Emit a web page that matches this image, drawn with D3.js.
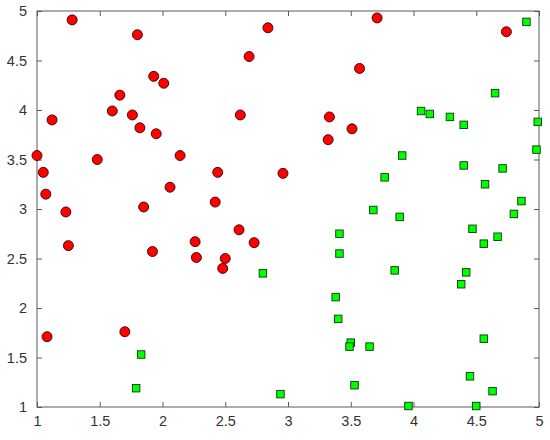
<!DOCTYPE html>
<html>
<head>
<meta charset="utf-8">
<script src="https://d3js.org/d3.v7.min.js"></script>
<style>
  body { margin: 0; background: #fff; }
  svg { display: block; font-family: "Liberation Sans", Arial, sans-serif; }
</style>
</head>
<body>
<div id="chart"></div>
<script>
// class 1 (red circles)
const redX = [1.28, 1.80, 2.84, 2.69, 1.93, 2.01, 1.66, 1.60, 1.76, 1.12,
              2.62, 1.82, 1.95, 1.00, 1.48, 2.14, 1.05, 2.44, 1.07, 2.06,
              2.42, 1.85, 1.23, 3.71, 4.74, 3.57, 3.33, 3.51, 3.32, 2.96,
              1.25, 1.92, 2.26, 2.27, 2.61, 2.73, 2.50, 2.48, 1.08, 1.70]
const redY = [4.91, 4.76, 4.83, 4.54, 4.34, 4.27, 4.15, 3.99, 3.95, 3.90,
              3.95, 3.82, 3.76, 3.54, 3.50, 3.54, 3.37, 3.37, 3.15, 3.22,
              3.07, 3.02, 2.97, 4.93, 4.79, 4.42, 3.93, 3.81, 3.70, 3.36,
              2.63, 2.57, 2.67, 2.51, 2.79, 2.66, 2.50, 2.40, 1.71, 1.76]

// class 2 (green squares)
const greenX = [4.90, 4.65, 4.06, 4.13, 4.29, 4.40, 4.99, 4.98, 3.91, 4.40,
                4.71, 3.77, 4.57, 4.86, 3.68, 4.80, 3.89, 4.47, 4.67, 4.56,
                3.41, 3.41, 3.85, 4.42, 4.38, 3.38, 3.40, 3.50, 3.49, 3.65,
                4.56, 4.45, 3.53, 4.63, 2.94, 3.96, 4.50, 2.80, 1.83, 1.79]
const greenY = [4.89, 4.17, 3.99, 3.96, 3.93, 3.85, 3.88, 3.60, 3.54, 3.44,
                3.41, 3.32, 3.25, 3.08, 2.99, 2.95, 2.92, 2.80, 2.72, 2.65,
                2.75, 2.55, 2.38, 2.36, 2.24, 2.11, 1.89, 1.65, 1.61, 1.61,
                1.69, 1.31, 1.22, 1.16, 1.13, 1.01, 1.01, 2.35, 1.53, 1.19]

const tickVals = [1, 1.5, 2, 2.5, 3, 3.5, 4, 4.5, 5]

const width = 550, height = 440
const margin = { top: 11, right: 11, bottom: 33, left: 37 }
const innerW = width - margin.left - margin.right
const innerH = height - margin.top - margin.bottom

const svg = d3.select("#chart").append("svg")
    .attr("width", width)
    .attr("height", height)

const g = svg.append("g")
    .attr("transform", `translate(${margin.left},${margin.top})`)

const x = d3.scaleLinear().domain([1, 5]).range([0, innerW])
const y = d3.scaleLinear().domain([1, 5]).range([innerH, 0])

const axisColor = "#5a5a5a"
const tickLen = 5

// box
g.append("rect")
    .attr("width", innerW)
    .attr("height", innerH)
    .attr("fill", "none")
    .attr("stroke", axisColor)
    .attr("stroke-width", 1)

function styleAxis(sel) {
    sel.select(".domain").remove()
    sel.selectAll(".tick line").attr("stroke", axisColor)
    sel.selectAll(".tick text")
        .attr("fill", "#333")
        .attr("font-size", "14.5px")
        .attr("font-family", "Liberation Sans, Arial, sans-serif")
}

// inward ticks on all four sides
g.append("g")
    .attr("transform", `translate(0,${innerH})`)
    .call(d3.axisBottom(x).tickValues(tickVals).tickSizeInner(-tickLen).tickSizeOuter(0).tickPadding(9).tickFormat(d3.format("")))
    .call(styleAxis)

g.append("g")
    .call(d3.axisLeft(y).tickValues(tickVals).tickSizeInner(-tickLen).tickSizeOuter(0).tickPadding(10).tickFormat(d3.format("")))
    .call(styleAxis)

g.append("g")
    .call(d3.axisTop(x).tickValues(tickVals).tickSizeInner(-tickLen).tickSizeOuter(0).tickFormat(""))
    .call(styleAxis)

g.append("g")
    .attr("transform", `translate(${innerW},0)`)
    .call(d3.axisRight(y).tickValues(tickVals).tickSizeInner(-tickLen).tickSizeOuter(0).tickFormat(""))
    .call(styleAxis)

// red circles
g.selectAll("circle.red")
    .data(redX.map((d, i) => [d, redY[i]]))
    .enter()
    .append("circle")
    .attr("class", "red")
    .attr("cx", d => x(d[0]))
    .attr("cy", d => y(d[1]))
    .attr("r", 5)
    .attr("fill", "#ff0000")
    .attr("stroke", "#3a0000")
    .attr("stroke-width", 0.9)

// green squares
const sq = 7.5
g.selectAll("rect.green")
    .data(greenX.map((d, i) => [d, greenY[i]]))
    .enter()
    .append("rect")
    .attr("class", "green")
    .attr("x", d => x(d[0]) - sq / 2)
    .attr("y", d => y(d[1]) - sq / 2)
    .attr("width", sq)
    .attr("height", sq)
    .attr("fill", "#00ff00")
    .attr("stroke", "#0a3a0a")
    .attr("stroke-width", 0.9)
</script>
</body>
</html>
